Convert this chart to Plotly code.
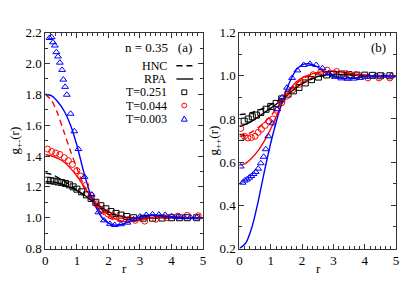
import plotly.graph_objects as go

# ---------------- data: panel (a) g+-(r) ----------------
r_line = [0, 0.2, 0.4, 0.6, 0.8, 1.0, 1.2, 1.4, 1.6, 1.8, 2.0, 2.2, 2.4, 2.6, 2.8, 3.0,
          3.2, 3.4, 3.6, 3.8, 4.0, 4.5, 5.0]

a_rpa_blue = [1.80, 1.79, 1.75, 1.69, 1.60, 1.47, 1.31, 1.17, 1.07, 1.00, 0.965, 0.952, 0.956,
              0.97, 0.99, 1.005, 1.015, 1.018, 1.016, 1.011, 1.006, 1.0, 1.0]
a_hnc_red = [1.80, 1.76, 1.67, 1.55, 1.43, 1.32, 1.22, 1.14, 1.075, 1.03, 1.0, 0.985, 0.975,
             0.975, 0.98, 0.99, 0.995, 1.0, 1.003, 1.004, 1.003, 1.0, 1.0]
a_rpa_red = [1.41, 1.40, 1.385, 1.36, 1.32, 1.27, 1.21, 1.15, 1.095, 1.05, 1.02, 0.995, 0.98,
             0.975, 0.978, 0.985, 0.993, 1.0, 1.004, 1.005, 1.003, 1.0, 1.0]
a_rpa_black = [1.235, 1.232, 1.225, 1.212, 1.195, 1.175, 1.15, 1.125, 1.095, 1.065, 1.04, 1.022,
               1.01, 1.002, 0.998, 0.997, 0.998, 1.0, 1.0, 1.0, 1.0, 1.0, 1.0]
a_hnc_black = [1.29, 1.28, 1.26, 1.235, 1.21, 1.18, 1.15, 1.12, 1.09, 1.06, 1.035, 1.018, 1.006,
               0.998, 0.995, 0.995, 0.997, 1.0, 1.0, 1.0, 1.0, 1.0, 1.0]

a_sq_r = [0.06, 0.17, 0.28, 0.4, 0.52, 0.64, 0.76, 0.88, 1.0, 1.15, 1.3, 1.45, 1.6, 1.76, 1.92,
          2.08, 2.24, 2.4, 2.58, 2.8, 3.1, 3.4, 3.7, 4.0, 4.25, 4.5, 4.8]
a_sq_g = [1.243, 1.24, 1.237, 1.232, 1.228, 1.222, 1.213, 1.2, 1.185, 1.168, 1.148, 1.125, 1.1,
          1.078, 1.058, 1.04, 1.028, 1.017, 1.008, 1.0, 0.997, 0.997, 0.998, 1.0, 1.0, 1.0, 1.0]

a_ci_r = [0.07, 0.2, 0.33, 0.46, 0.6, 0.73, 0.86, 1.0, 1.12, 1.28, 1.45, 1.62, 1.8, 1.98, 2.17,
          2.4, 2.65, 2.85, 3.15, 3.5, 3.85, 4.2, 4.5, 4.85]
a_ci_g = [1.445, 1.43, 1.42, 1.41, 1.39, 1.37, 1.345, 1.305, 1.27, 1.21, 1.145, 1.09, 1.05, 1.025,
          1.01, 0.995, 0.988, 0.983, 0.978, 0.99, 1.0, 1.01, 1.015, 1.013]

a_tr_r = [0.13, 0.2, 0.24, 0.30, 0.35, 0.40, 0.46, 0.53, 0.57, 0.625, 0.68, 0.80, 0.92, 1.05,
          1.24, 1.47, 1.68, 1.86, 2.05, 2.2, 2.4, 2.6, 2.8, 3.0, 3.2, 3.4, 3.6, 3.8, 4.0, 4.2,
          4.4, 4.6, 4.8]
a_tr_g = [2.165, 2.17, 2.137, 2.116, 2.073, 2.045, 2.005, 1.958, 1.895, 1.848, 1.797, 1.674, 1.56,
          1.445, 1.265, 1.15, 1.035, 0.983, 0.96, 0.953, 0.958, 0.968, 0.99, 1.008, 1.018, 1.022,
          1.02, 1.018, 1.01, 1.005, 1.003, 1.003, 1.002]

# ---------------- data: panel (b) g++(r) ----------------
b_rpa_black = [0.765, 0.775, 0.79, 0.81, 0.83, 0.85, 0.872, 0.895, 0.92, 0.945, 0.965, 0.98,
               0.992, 1.0, 1.005, 1.006, 1.006, 1.005, 1.004, 1.003, 1.002, 1.0, 1.0]
b_hnc_black = [0.82, 0.823, 0.83, 0.84, 0.852, 0.866, 0.882, 0.9, 0.92, 0.943, 0.963, 0.978,
               0.99, 0.998, 1.003, 1.005, 1.005, 1.004, 1.003, 1.002, 1.001, 1.0, 1.0]
b_rpa_red = [0.587, 0.595, 0.62, 0.655, 0.70, 0.755, 0.82, 0.885, 0.935, 0.97, 0.99, 1.003,
             1.012, 1.018, 1.02, 1.02, 1.018, 1.014, 1.01, 1.006, 1.003, 1.0, 1.0]
b_hnc_red = [0.72, 0.725, 0.74, 0.76, 0.785, 0.815, 0.85, 0.89, 0.93, 0.962, 0.985, 1.0, 1.01,
             1.016, 1.018, 1.018, 1.016, 1.013, 1.009, 1.005, 1.003, 1.0, 1.0]
b_rpa_blue = [0.2, 0.225, 0.30, 0.42, 0.56, 0.69, 0.80, 0.895, 0.97, 1.025, 1.05, 1.056, 1.048,
              1.03, 1.01, 0.997, 0.99, 0.986, 0.987, 0.992, 0.997, 1.0, 1.0]

b_sq_r = [0.05, 0.15, 0.28, 0.41, 0.54, 0.68, 0.85, 1.0, 1.17, 1.35, 1.55, 1.72, 1.9, 2.1, 2.3,
          2.52, 2.78, 3.0, 3.25, 3.5, 3.75, 4.0, 4.25, 4.5, 4.8]
b_sq_g = [0.715, 0.79, 0.8, 0.81, 0.818, 0.83, 0.845, 0.858, 0.872, 0.893, 0.915, 0.93, 0.946,
          0.967, 0.982, 0.994, 1.004, 1.008, 1.008, 1.005, 1.003, 1.003, 1.002, 1.0, 1.0]

b_ci_r = [0.04, 0.16, 0.27, 0.38, 0.5, 0.6, 0.7, 0.82, 0.94, 1.06, 1.2, 1.35, 1.5, 1.7, 1.9, 2.1,
          2.35, 2.6, 2.8, 3.1, 3.4, 3.72, 4.1, 4.45, 4.8]
b_ci_g = [0.756, 0.72, 0.712, 0.714, 0.72, 0.738, 0.752, 0.77, 0.79, 0.8, 0.84, 0.875, 0.905,
          0.935, 0.96, 0.985, 1.005, 1.02, 1.026, 1.02, 1.01, 1.005, 0.99, 0.99, 0.99]

b_tr_r = [0.04, 0.1, 0.17, 0.24, 0.31, 0.38, 0.45, 0.52, 0.6, 0.68, 0.77, 0.84, 0.92, 1.05, 1.2,
          1.36, 1.52, 1.68, 1.85, 2.05, 2.25, 2.45, 2.65, 2.85, 3.05, 3.25, 3.45, 3.65, 3.85,
          4.1, 4.35, 4.6, 4.85]
b_tr_g = [0.58, 0.505, 0.515, 0.52, 0.528, 0.536, 0.545, 0.555, 0.57, 0.595, 0.625, 0.66, 0.72,
          0.78, 0.845, 0.9, 0.945, 0.99, 1.025, 1.05, 1.055, 1.05, 1.035, 1.012, 0.995, 0.988,
          0.986, 0.987, 0.99, 0.995, 1.0, 1.0, 1.0]

legend_labels = ["HNC", "RPA", "T=0.251", "T=0.044", "T=0.003"]

# ---------------- styling ----------------
W, H = 407, 285
BLACK, RED, BLUE = "#000000", "#ff0000", "#0000ff"
FONT = "Liberation Serif"
DASH = "6px,4px"


def px(x):
    return x / W


def py(y):
    return 1 - y / H


fig = go.Figure()


def line(x, y, color, dash, xa, ya):
    fig.add_trace(go.Scatter(x=x, y=y, mode="lines", line=dict(color=color, width=1.4, dash=dash,
                                                               shape="spline", smoothing=0.6),
                             xaxis=xa, yaxis=ya, showlegend=False, hoverinfo="skip"))


def pts(x, y, color, symbol, xa, ya, size=6):
    fig.add_trace(go.Scatter(x=x, y=y, mode="markers",
                             marker=dict(symbol=symbol, size=size, color=color,
                                         line=dict(color=color, width=1)),
                             xaxis=xa, yaxis=ya, showlegend=False, hoverinfo="skip"))


# panel a
line(r_line, a_hnc_black, BLACK, DASH, "x", "y")
line(r_line, a_rpa_black, BLACK, "solid", "x", "y")
line(r_line, a_hnc_red, RED, DASH, "x", "y")
line(r_line, a_rpa_red, RED, "solid", "x", "y")
line(r_line, a_rpa_blue, BLUE, "solid", "x", "y")
pts(a_sq_r, a_sq_g, BLACK, "square-open", "x", "y")
pts(a_ci_r, a_ci_g, RED, "circle-open", "x", "y")
pts(a_tr_r, a_tr_g, BLUE, "triangle-up-open", "x", "y")

# panel b
line(r_line, b_hnc_black, BLACK, DASH, "x2", "y2")
line(r_line, b_rpa_black, BLACK, "solid", "x2", "y2")
line(r_line, b_hnc_red, RED, DASH, "x2", "y2")
line(r_line, b_rpa_red, RED, "solid", "x2", "y2")
line(r_line, b_rpa_blue, BLUE, "solid", "x2", "y2")
pts(b_sq_r, b_sq_g, BLACK, "square-open", "x2", "y2")
pts(b_ci_r, b_ci_g, RED, "circle-open", "x2", "y2")
pts(b_tr_r, b_tr_g, BLUE, "triangle-up-open", "x2", "y2")

axis_common = dict(showline=True, linecolor="#333333", linewidth=1, mirror="allticks",
                   ticks="inside", ticklen=5, tickcolor="#333333", showgrid=False, zeroline=False,
                   tickfont=dict(family=FONT, size=13, color="black"))

xa = dict(axis_common, range=[0, 5], dtick=1, tick0=0,
          minor=dict(ticks="inside", ticklen=3, dtick=1 / 6, tick0=0, tickcolor="#333333"))
ya_a = dict(axis_common, range=[0.8, 2.2], dtick=0.2, tick0=0.8, tickformat=".1f",
            minor=dict(ticks="inside", ticklen=3, dtick=0.1, tick0=0.8, tickcolor="#333333"))
ya_b = dict(axis_common, range=[0.2, 1.2], dtick=0.2, tick0=0.2, tickformat=".1f",
            minor=dict(ticks="inside", ticklen=3, dtick=0.1, tick0=0.2, tickcolor="#333333"))

fig.update_layout(
    width=W, height=H,
    margin=dict(l=0, r=0, t=0, b=0),
    paper_bgcolor="white", plot_bgcolor="white",
    font=dict(family=FONT, size=13, color="black"),
    showlegend=False,
    xaxis=dict(xa, domain=[px(43), px(203)], anchor="y"),
    yaxis=dict(ya_a, domain=[py(255), py(27)], anchor="x"),
    xaxis2=dict(xa, domain=[px(240), px(399)], anchor="y2"),
    yaxis2=dict(ya_b, domain=[py(255), py(27)], anchor="x2"),
)

tf = dict(family=FONT, size=13, color="black")
lf = dict(family=FONT, size=12, color="black")
ann = [
    dict(x=px(194), y=py(43), text="n = 0.35   (a)", xanchor="right", yanchor="middle", font=tf),
    dict(x=px(391), y=py(43), text="(b)", xanchor="right", yanchor="middle", font=tf),
    dict(x=px(123), y=py(276), text="r", xanchor="center", yanchor="middle", font=tf),
    dict(x=px(320), y=py(276), text="r", xanchor="center", yanchor="middle", font=tf),
    dict(x=px(13), y=py(141), text="g<sub>+-</sub>(r)", textangle=-90, xanchor="center",
         yanchor="middle", font=tf),
    dict(x=px(215), y=py(141), text="g<sub>++</sub>(r)", textangle=-90, xanchor="center",
         yanchor="middle", font=tf),
]
leg_y = [62, 76, 90, 104, 118]
for lab, yy in zip(legend_labels, leg_y):
    ann.append(dict(x=px(168), y=py(yy), text=lab, xanchor="right", yanchor="middle", font=lf))
for a in ann:
    a.update(xref="paper", yref="paper", showarrow=False)
fig.update_layout(annotations=ann)

shapes = [
    dict(type="line", x0=px(176), x1=px(193), y0=py(62), y1=py(62),
         line=dict(color=BLACK, width=1.4, dash=DASH)),
    dict(type="line", x0=px(176), x1=px(193), y0=py(76), y1=py(76),
         line=dict(color="#555555", width=2)),
    dict(type="rect", x0=px(181.5), x1=px(186.5), y0=py(92.5), y1=py(87.5),
         line=dict(color=BLACK, width=1)),
    dict(type="circle", x0=px(181.5), x1=px(186.5), y0=py(106.5), y1=py(101.5),
         line=dict(color=RED, width=1)),
    dict(type="path",
         path=f"M {px(181)} {py(120.5)} L {px(187)} {py(120.5)} L {px(184)} {py(115)} Z",
         line=dict(color=BLUE, width=1)),
]
for s in shapes:
    s.update(xref="paper", yref="paper")
fig.update_layout(shapes=shapes)

fig.write_html("out.html", config={"displayModeBar": False},
               post_script="document.body.style.margin='0';document.body.style.padding='0';")
